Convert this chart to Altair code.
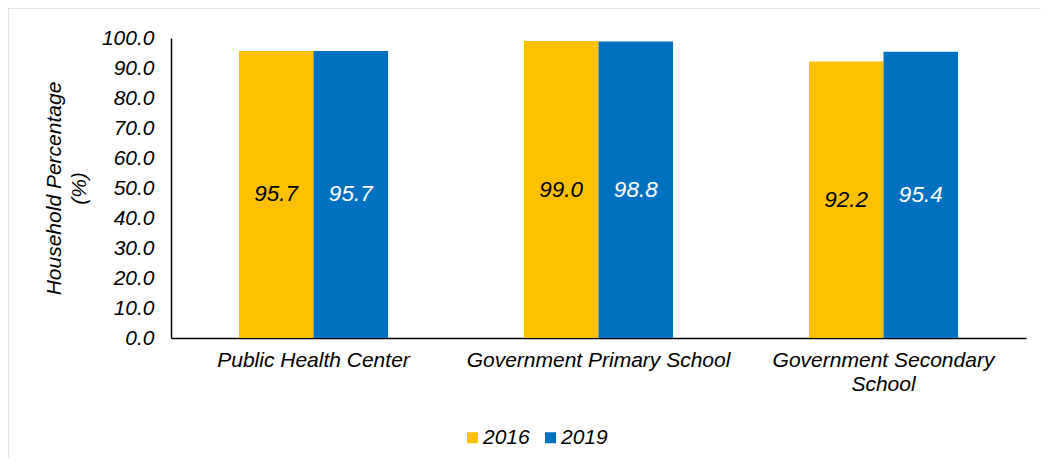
import altair as alt
import pandas as pd

categories = ["Public Health Center", "Government Primary School", "Government Secondary School"]
years = ["2016", "2019"]
values_2016 = [95.7, 99.0, 92.2]
values_2019 = [95.7, 98.8, 95.4]
colors = ["#FFC000", "#0070C0"]

rows = []
for c, a, b in zip(categories, values_2016, values_2019):
    rows.append({"category": c, "year": years[0], "value": a})
    rows.append({"category": c, "year": years[1], "value": b})
df = pd.DataFrame(rows)

FONT = "Liberation Sans"
FS = 21

x_axis = alt.Axis(
    title=None, labelAngle=0, labelFontSize=FS, labelFontStyle="italic",
    labelColor="black", labelPadding=11, ticks=False, domainColor="black",
    domainWidth=1.5, labelLimit=400, labelLineHeight=24, labelFont=FONT,
    labelExpr="datum.value == 'Government Secondary School' ? ['Government Secondary', 'School'] : datum.label",
)
y_axis = alt.Axis(
    title=["Household Percentage", "(%)"], titleFontSize=FS, titleFontStyle="italic",
    titleFontWeight="normal", titleColor="black", titleFont=FONT, titleLineHeight=25,
    titlePadding=12,
    values=list(range(0, 101, 10)), format=".1f", labelFontSize=FS,
    labelFontStyle="italic", labelColor="black", labelPadding=17, labelFont=FONT,
    labelOverlap=False,
    ticks=False, grid=False, domainColor="black", domainWidth=1.5,
)
x_scale = alt.Scale(paddingInner=0.477, paddingOuter=0.2385)
y_scale = alt.Scale(domain=[0, 100])

bars = alt.Chart(df).mark_bar().encode(
    x=alt.X("category:N", sort=categories, scale=x_scale, axis=x_axis),
    xOffset=alt.XOffset("year:N", sort=years),
    y=alt.Y("value:Q", scale=y_scale, axis=y_axis),
    color=alt.Color(
        "year:N", sort=years, scale=alt.Scale(domain=years, range=colors),
        legend=alt.Legend(
            title=None, orient="none", legendX=291, legendY=389, direction="horizontal",
            symbolType="square", symbolSize=121, symbolStrokeWidth=0, labelFontSize=FS,
            labelFontStyle="italic", labelColor="black", labelFont=FONT, labelOffset=0,
            columnPadding=10, padding=0,
        ),
    ),
)

text = alt.Chart(df).transform_calculate(mid="datum.value / 2").mark_text(
    fontSize=22.5, fontStyle="italic", font=FONT, baseline="middle", align="center"
).encode(
    x=alt.X("category:N", sort=categories, scale=x_scale, axis=x_axis),
    xOffset=alt.XOffset("year:N", sort=years),
    y=alt.Y("mid:Q", scale=y_scale, axis=y_axis),
    text=alt.Text("value:Q", format=".1f"),
    color=alt.condition(alt.datum.year == "2016", alt.value("black"), alt.value("white")),
)

border = alt.Chart(pd.DataFrame({"k": [0]})).mark_rect(
    fill="white", fillOpacity=0, stroke="#d9d9d9", strokeWidth=1.5
).encode(
    x=alt.value(-163), x2=alt.value(1200), y=alt.value(-30), y2=alt.value(800)
)

chart = alt.layer(border, bars, text).properties(
    width=855, height=300,
    autosize=alt.AutoSizeParams(type="none"),
    padding={"left": 163, "top": 30, "right": 15, "bottom": 120},
).configure(font=FONT).configure_view(stroke=None).configure_axis(labelOverlap=False)

chart.save("out.html", embed_options={"renderer": "svg", "actions": False})
